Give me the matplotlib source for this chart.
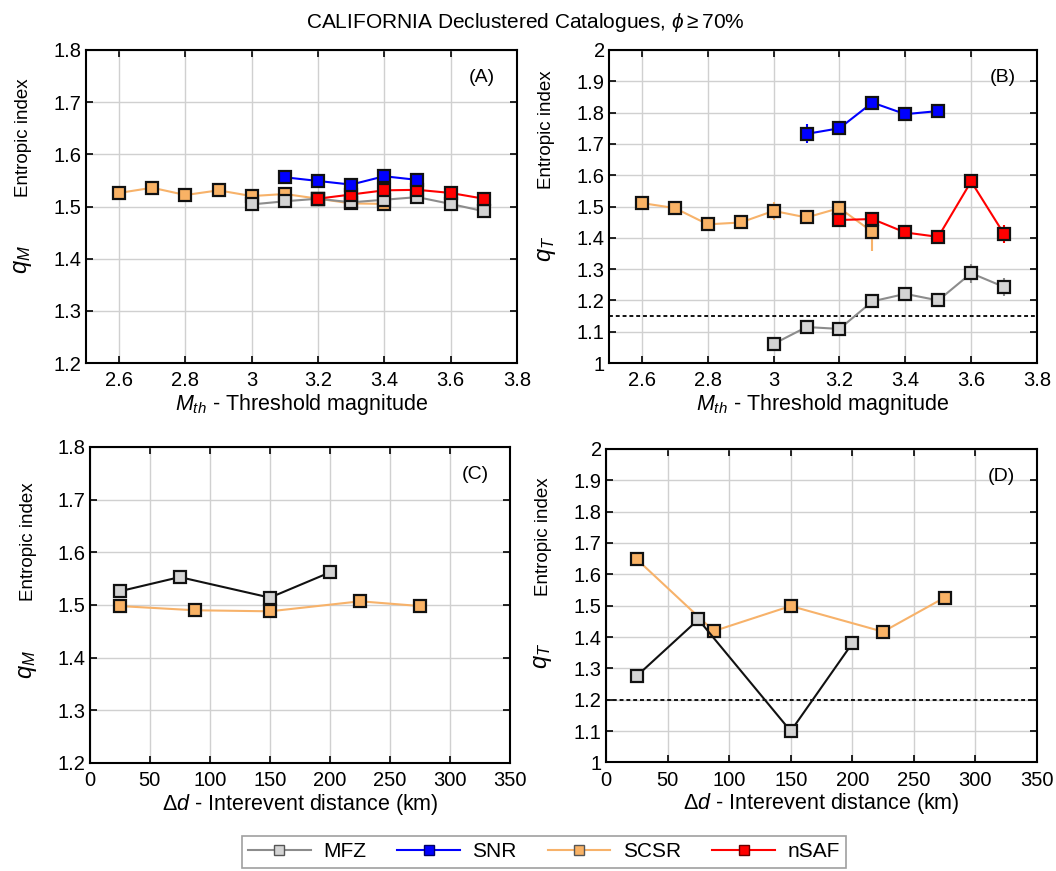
import matplotlib
matplotlib.use("Agg")
import matplotlib.pyplot as plt
from matplotlib.ticker import FormatStrFormatter, MultipleLocator
from matplotlib.lines import Line2D

plt.rcParams["font.family"] = ["Liberation Sans", "DejaVu Sans"]
plt.rcParams["mathtext.fontset"] = "custom"
plt.rcParams["mathtext.rm"] = "Liberation Sans"
plt.rcParams["mathtext.it"] = "Liberation Sans:italic"
plt.rcParams["mathtext.bf"] = "Liberation Sans:bold"

# --- threshold magnitude panels (A, B) ---
mfz_mth = [3.0, 3.1, 3.2, 3.3, 3.4, 3.5, 3.6, 3.7]
mfz_qm = [1.504, 1.510, 1.515, 1.508, 1.513, 1.518, 1.505, 1.491]
mfz_qt = [1.061, 1.115, 1.109, 1.197, 1.221, 1.200, 1.287, 1.243]
mfz_qt_err = [0.01, 0.01, 0.01, 0.01, 0.01, 0.01, 0.03, 0.03]

snr_mth = [3.1, 3.2, 3.3, 3.4, 3.5]
snr_qm = [1.556, 1.549, 1.542, 1.558, 1.551]
snr_qt = [1.732, 1.750, 1.832, 1.795, 1.805]
snr_qt_err = [0.03, 0.01, 0.01, 0.01, 0.015]

scsr_mth = [2.6, 2.7, 2.8, 2.9, 3.0, 3.1, 3.2, 3.3, 3.4]
scsr_qm = [1.526, 1.536, 1.522, 1.531, 1.520, 1.524, 1.515, 1.506, 1.505]
scsr_mth_t = [2.6, 2.7, 2.8, 2.9, 3.0, 3.1, 3.2, 3.3]
scsr_qt = [1.511, 1.495, 1.443, 1.449, 1.486, 1.465, 1.495, 1.419]
scsr_qt_err = [0.01, 0.01, 0.01, 0.01, 0.03, 0.01, 0.01, 0.06]

nsaf_mth = [3.2, 3.3, 3.4, 3.5, 3.6, 3.7]
nsaf_qm = [1.515, 1.523, 1.531, 1.532, 1.526, 1.515]
nsaf_qt = [1.457, 1.460, 1.417, 1.403, 1.580, 1.412]
nsaf_qt_err = [0.01, 0.01, 0.01, 0.01, 0.01, 0.03]

# --- interevent distance panels (C, D) ---
mfz_dist = [25, 75, 150, 200]
mfz_dist_qm = [1.526, 1.553, 1.514, 1.562]
mfz_dist_qt = [1.276, 1.456, 1.100, 1.380]

scsr_dist = [25, 87.5, 150, 225, 275]
scsr_dist_qm = [1.498, 1.490, 1.488, 1.507, 1.498]
scsr_dist_qt = [1.648, 1.419, 1.499, 1.417, 1.526]

qt_ref_mth = 1.15
qt_ref_dist = 1.2

C_MFZ = "#8c8c8c"
C_SNR = "#0000ff"
C_SCSR = "#f7b26a"
C_NSAF = "#ff0000"
F_MFZ = "#d4d4d4"
F_SNR = "#0000ff"
F_SCSR = "#f9b265"
F_NSAF = "#ff0000"

MK = dict(marker="s", markersize=8.5, markeredgecolor="#111111", markeredgewidth=1.6)


def style_axes(ax, letter):
    ax.grid(True, color="#d0d0d0", linewidth=1.0)
    ax.set_axisbelow(True)
    ax.tick_params(direction="in", top=True, right=True, length=5, width=1.2,
                   labelsize=14.5)
    ax.tick_params(axis="x", pad=6)
    ax.tick_params(axis="y", pad=3)
    for sp in ax.spines.values():
        sp.set_linewidth(1.5)
    ax.yaxis.set_major_formatter(FormatStrFormatter("%g"))
    ax.xaxis.set_major_formatter(FormatStrFormatter("%g"))
    ax.text(0.95, 0.94, letter, transform=ax.transAxes, ha="right", va="top",
            fontsize=14)


def ylabel(ax, sym, y_text, y_sym):
    # symbol and description are set apart, as two rotated pieces
    ax.text(-0.146, y_text, "Entropic index", transform=ax.transAxes,
            rotation=90, ha="center", va="center", fontsize=13.5)
    ax.text(-0.146, y_sym, r"$%s$" % sym, transform=ax.transAxes,
            rotation=90, ha="center", va="center", fontsize=17)


def series(ax, x, y, color, face, err=None, lw=1.5):
    if err is None:
        ax.plot(x, y, color=color, linewidth=lw, markerfacecolor=face, **MK)
    else:
        ax.errorbar(x, y, yerr=err, color=color, linewidth=lw, elinewidth=1.5,
                    capsize=0, markerfacecolor=face, **MK)


fig = plt.figure(figsize=(10.56, 8.71), dpi=100)
axA = fig.add_axes([0.0814, 0.5832, 0.408, 0.3594])
axB = fig.add_axes([0.5767, 0.5832, 0.4053, 0.3594])
axC = fig.add_axes([0.0848, 0.1240, 0.3985, 0.3628])
axD = fig.add_axes([0.5739, 0.1246, 0.4081, 0.3600])

# (A) q_M vs threshold magnitude
series(axA, scsr_mth, scsr_qm, C_SCSR, F_SCSR)
series(axA, mfz_mth, mfz_qm, C_MFZ, F_MFZ)
series(axA, nsaf_mth, nsaf_qm, C_NSAF, F_NSAF)
series(axA, snr_mth, snr_qm, C_SNR, F_SNR)
axA.set_xlim(2.5, 3.8)
axA.set_ylim(1.2, 1.8)
axA.set_xticks([2.6, 2.8, 3.0, 3.2, 3.4, 3.6, 3.8])
axA.yaxis.set_major_locator(MultipleLocator(0.1))
axA.set_xlabel(r"$M_{th}$ - Threshold magnitude", fontsize=15.5, labelpad=1)
ylabel(axA, "q_M", 0.72, 0.33)
style_axes(axA, "(A)")

# (B) q_T vs threshold magnitude
axB.axhline(qt_ref_mth, color="#111111", linewidth=1.4, linestyle=(0, (2, 1.5)))
series(axB, scsr_mth_t, scsr_qt, C_SCSR, F_SCSR, scsr_qt_err)
series(axB, mfz_mth, mfz_qt, C_MFZ, F_MFZ, mfz_qt_err)
series(axB, nsaf_mth, nsaf_qt, C_NSAF, F_NSAF, nsaf_qt_err)
series(axB, snr_mth, snr_qt, C_SNR, F_SNR, snr_qt_err)
axB.set_xlim(2.5, 3.8)
axB.set_ylim(1.0, 2.0)
axB.set_xticks([2.6, 2.8, 3.0, 3.2, 3.4, 3.6, 3.8])
axB.yaxis.set_major_locator(MultipleLocator(0.1))
axB.set_xlabel(r"$M_{th}$ - Threshold magnitude", fontsize=15.5, labelpad=1)
ylabel(axB, "q_T", 0.745, 0.365)
style_axes(axB, "(B)")

# (C) q_M vs interevent distance
series(axC, scsr_dist, scsr_dist_qm, C_SCSR, F_SCSR)
series(axC, mfz_dist, mfz_dist_qm, "#111111", F_MFZ)
axC.set_xlim(0, 350)
axC.set_ylim(1.2, 1.8)
axC.xaxis.set_major_locator(MultipleLocator(50))
axC.yaxis.set_major_locator(MultipleLocator(0.1))
axC.set_xlabel(r"$\mathit{\Delta d}$ - Interevent distance (km)", fontsize=15.5, labelpad=1)
ylabel(axC, "q_M", 0.70, 0.31)
style_axes(axC, "(C)")

# (D) q_T vs interevent distance
axD.axhline(qt_ref_dist, color="#111111", linewidth=1.4, linestyle=(0, (2, 1.5)))
series(axD, scsr_dist, scsr_dist_qt, C_SCSR, F_SCSR)
series(axD, mfz_dist, mfz_dist_qt, "#111111", F_MFZ)
axD.set_xlim(0, 350)
axD.set_ylim(1.0, 2.0)
axD.xaxis.set_major_locator(MultipleLocator(50))
axD.yaxis.set_major_locator(MultipleLocator(0.1))
axD.set_xlabel(r"$\mathit{\Delta d}$ - Interevent distance (km)", fontsize=15.5, labelpad=1)
ylabel(axD, "q_T", 0.72, 0.34)
style_axes(axD, "(D)")

fig.text(0.497, 0.974, r"CALIFORNIA Declustered Catalogues, $\mathit{\phi} \geq 70\%$",
         ha="center", va="center", fontsize=15)

handles = [
    Line2D([], [], color=C_MFZ, marker="s", markersize=7, markerfacecolor=F_MFZ,
           markeredgecolor="#555555", linewidth=1.5),
    Line2D([], [], color=C_SNR, marker="s", markersize=7, markerfacecolor=F_SNR,
           markeredgecolor="#000066", linewidth=1.5),
    Line2D([], [], color=C_SCSR, marker="s", markersize=7, markerfacecolor=F_SCSR,
           markeredgecolor="#555555", linewidth=1.5),
    Line2D([], [], color=C_NSAF, marker="s", markersize=7, markerfacecolor=F_NSAF,
           markeredgecolor="#660000", linewidth=1.5),
]
leg = fig.legend(handles, ["MFZ", "SNR", "SCSR", "nSAF"], loc="center",
                 bbox_to_anchor=(0.515, 0.022), ncol=4, fontsize=15,
                 frameon=True, fancybox=False, handlelength=3.0,
                 columnspacing=1.5, handletextpad=0.6, borderpad=0.3)
leg.get_frame().set_edgecolor("#888888")
leg.get_frame().set_linewidth(1.2)

fig.savefig("out.png", dpi=100)
